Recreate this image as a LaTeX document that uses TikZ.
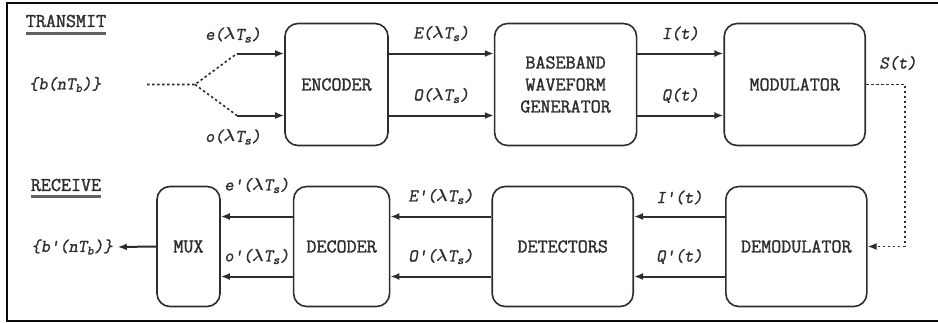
\documentclass[tikz,border=0pt]{standalone}
\usepackage{fontspec}
\setmonofont{Latin Modern Mono}[AutoFakeBold=1.6]
\newfontfamily\lblfont{Latin Modern Mono}[FakeBold=1.3, FakeSlant=0.18]
\usepackage{amsmath}
\usepackage{xcolor}
\definecolor{ink}{RGB}{45, 45, 45}
\definecolor{frame}{RGB}{10, 10, 10}
\usepackage{tikz}
\usetikzlibrary{arrows.meta, positioning, calc}
\tikzset{
  blockbox/.style={draw=ink, line width=1.6pt, rounded corners=13pt,
    minimum height=122pt, inner sep=0pt, align=center, text=ink,
    font=\ttfamily\bfseries\fontsize{19.5}{22}\selectfont},
  lowbox/.style={blockbox, minimum height=120pt},
  sigarrow/.style={-{Latex[length=9pt,width=7pt]}, line width=2pt, color=ink},
  dotline/.style={line width=1.6pt, color=ink, dash pattern=on 2.5pt off 2.5pt},
  sigtext/.style={text=ink, inner sep=1pt,
    font=\lblfont\fontsize{18}{20}\selectfont},
  headtext/.style={text=ink, inner sep=0pt,
    font=\ttfamily\bfseries\fontsize{19.5}{20}\selectfont},
  underbar/.style={line width=2.4pt, color=ink!75},
  frameline/.style={line width=2pt, color=frame}
}
\newcommand{\sub}[1]{\textsubscript{#1}}
\newcommand{\lam}{\ensuremath{\boldsymbol{\lambda}}}

\begin{document}
\begin{tikzpicture}[x=1pt, y=-1pt]
  \useasboundingbox (0,0) rectangle (938,322);
  \draw[frameline] (938,3) -- (7,3) -- (7,321) -- (938,321);

  % transmit chain
  \node[headtext] (tx) at (66,21) {TRANSMIT};
  \draw[underbar] ([yshift=-6pt]tx.south west) -- ([yshift=-6pt]tx.south east);

  \node[sigtext] (bits) at (65,84.5) {\{b(nT\sub{b})\}};

  \node[blockbox, minimum width=103pt] (encoder) at (336.5,84.5) {ENCODER};
  \node[blockbox, minimum width=142pt, right=105pt of encoder] (baseband)
    {BASEBAND\\WAVEFORM\\GENERATOR};
  \node[blockbox, minimum width=141pt, right=86pt of baseband] (modulator)
    {MODULATOR};

  \coordinate (dots)  at (147,84.5);
  \coordinate (split) at (195,84.5);
  \coordinate (ein)   at (237,53.5);
  \coordinate (oin)   at (237,115.5);

  \draw[dotline] (dots) -- (split) -- (ein);
  \draw[dotline] (split) -- (oin);
  \draw[sigarrow] (ein) -- ([yshift=31pt]encoder.west);
  \draw[sigarrow] (oin) -- ([yshift=-31pt]encoder.west);
  \node[sigtext] (elab) at (233,35) {e(\lam T\sub{s})};
  \node[sigtext] (olab) at (233,137) {o(\lam T\sub{s})};

  \draw[sigarrow] ([yshift=31pt]encoder.east) -- ([yshift=31pt]baseband.west)
    node[sigtext, midway, yshift=20pt] {E(\lam T\sub{s})};
  \draw[sigarrow] ([yshift=-31pt]encoder.east) -- ([yshift=-31pt]baseband.west)
    node[sigtext, midway, yshift=20pt] {O(\lam T\sub{s})};
  \draw[sigarrow] ([yshift=31pt]baseband.east) -- ([yshift=31pt]modulator.west)
    node[sigtext, midway, yshift=20pt] {I(t)};
  \draw[sigarrow] ([yshift=-31pt]baseband.east) -- ([yshift=-31pt]modulator.west)
    node[sigtext, midway, yshift=20pt] {Q(t)};

  % channel
  \coordinate (bendA) at (905,84.5);
  \coordinate (bendB) at (905,246.5);
  \node[sigtext] (slab) at (898,63) {S(t)};

  % receive chain
  \node[headtext] (rx) at (66,185) {RECEIVE};
  \draw[underbar] ([yshift=-5pt]rx.south west) -- ([yshift=-5pt]rx.south east);

  \node[lowbox, minimum width=63pt] (mux) at (188.5,246.5) {MUX};
  \node[lowbox, minimum width=96pt, right=72pt of mux] (decoder) {DECODER};
  \node[lowbox, minimum width=141pt, right=101pt of decoder] (detectors)
    {DETECTORS};
  \node[lowbox, minimum width=141pt, right=91pt of detectors] (demod)
    {DEMODULATOR};

  \draw[dotline] (modulator.east) -- (bendA) -- (bendB);
  \draw[dotline, -{Latex[length=9pt,width=7pt]}] (bendB) -- (demod.east);

  \draw[sigarrow] ([yshift=30pt]demod.west) -- ([yshift=30pt]detectors.east)
    node[sigtext, midway, yshift=19pt] {I'(t)};
  \draw[sigarrow] ([yshift=-30pt]demod.west) -- ([yshift=-30pt]detectors.east)
    node[sigtext, midway, yshift=20pt] {Q'(t)};
  \draw[sigarrow] ([yshift=30pt]detectors.west) -- ([yshift=30pt]decoder.east)
    node[sigtext, midway, yshift=20pt] {E'(\lam T\sub{s})};
  \draw[sigarrow] ([yshift=-30pt]detectors.west) -- ([yshift=-30pt]decoder.east)
    node[sigtext, midway, yshift=20pt] {O'(\lam T\sub{s})};
  \draw[sigarrow] ([yshift=30pt]decoder.west) -- ([yshift=30pt]mux.east)
    node[sigtext, midway, yshift=31pt] {e'(\lam T\sub{s})};
  \draw[sigarrow] ([yshift=-30pt]decoder.west) -- ([yshift=-30pt]mux.east)
    node[sigtext, midway, yshift=20pt] {o'(\lam T\sub{s})};

  \node[sigtext] (bitsout) at (72,247) {\{b'(nT\sub{b})\}};
  \draw[sigarrow] (mux.west) -- ([xshift=4pt]bitsout.east);

\end{tikzpicture}
\end{document}
